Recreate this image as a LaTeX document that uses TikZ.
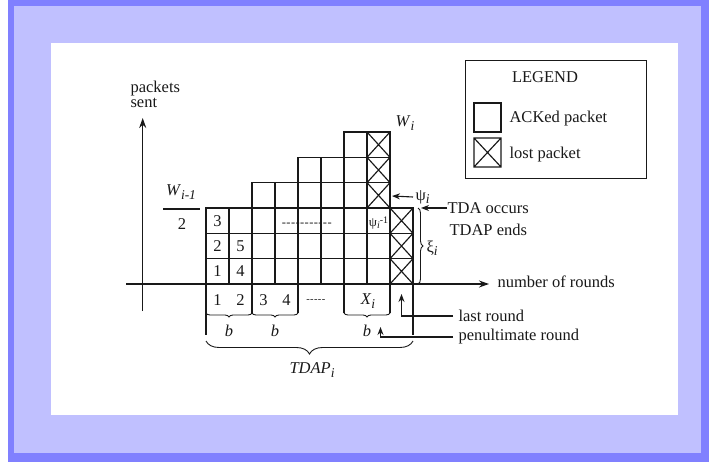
\documentclass[tikz,border=0pt]{standalone}
\usepackage{amsmath}
\usepackage{fontspec}
\setmainfont{Liberation Serif}
\usetikzlibrary{arrows.meta,decorations.pathreplacing}
\definecolor{bordblue}{RGB}{128,128,255}
\definecolor{lav}{RGB}{192,192,255}
\definecolor{ink}{RGB}{25,25,25}
\newcommand\isub[1]{\raisebox{-3.5pt}{\fontsize{13.5}{14}\selectfont\itshape #1}}
\newcommand\hy{-\kern0.4pt}
\begin{document}
\begin{tikzpicture}[x=1pt,y=-1pt,line width=1.15pt,draw=ink,
  lbl/.style={font=\fontsize{16.5}{18}\selectfont,inner sep=0pt,text=ink},
  small/.style={font=\fontsize{13}{14}\selectfont,inner sep=0pt,text=ink},
  axisarrow/.style={-{Stealth[length=10pt,width=7pt]},line width=1.2pt,draw=ink},
  arr/.style={-{Stealth[length=8pt,width=6pt]},line width=1.1pt,draw=ink},
  brc/.style={decorate,line width=0.9pt,draw=ink}]
\useasboundingbox (0,0) rectangle (709,462);
% background frame
\fill[white] (0,0) rectangle (709,462);
\fill[bordblue] (8,0) rectangle (709,462);
\fill[lav] (14,6) rectangle (701,453);
\fill[white] (51,43) rectangle (678,415);

% legend
\draw[line width=1pt] (465,61) rectangle (646,179);
\node[lbl] (legend) at (545,77) {LEGEND};
\draw (474,103) rectangle (501,132);
\node[lbl,anchor=west] (ack) at (509,119) {ACKed packet};
\draw (474,138) rectangle (501,167) (474,138) -- (501,167) (501,138) -- (474,167);
\node[lbl,anchor=west] (lost) at (509,155) {lost packet};

% grid of packets
\foreach \k/\h in {0/3,1/3,2/4,3/4,4/5,5/5,6/6,7/6,8/3}{
  \foreach \r in {1,...,\h}{
    \draw (206+23*\k,284-25.333*\r+25.333) rectangle ++(23,-25.333);
  }
}
\foreach \k/\r in {7/3,7/4,7/5,8/0,8/1,8/2}{
  \draw (206+23*\k,284-25.333*\r) -- ++(23,-25.333) ++(-23,0) -- ++(23,25.333);
}
% cell labels
\node[lbl] (c1) at (217.5,271.3) {1};
\node[lbl] (c2) at (217.5,246) {2};
\node[lbl] (c3) at (217.5,220.7) {3};
\node[lbl] (c4) at (240.5,271.3) {4};
\node[lbl] (c5) at (240.5,246) {5};
\node[font=\fontsize{12.5}{14}\selectfont,inner sep=0pt,text=ink] (dots2) at (307,225) {\hy\hy\hy\hy\hy\hy\hy\hy\hy\hy\hy};
\node[small] (psim) at (378.5,223) {ψ\raisebox{-2.5pt}{\fontsize{10}{11}\selectfont\itshape i}\raisebox{3pt}{\fontsize{10}{11}\selectfont -1}};

% axes
\coordinate (xs) at (126,284);
\coordinate (xe) at (489,284);
\coordinate (ys) at (142.7,311);
\coordinate (ye) at (142.7,118);
\draw[axisarrow] (xs) -- (xe);
\draw[axisarrow] (ys) -- (ye);
\node[lbl,anchor=west] (nrounds) at (497,282) {number of rounds};
\node[lbl,anchor=west,align=left,font=\fontsize{16.5}{15}\selectfont] (psent) at (130,94) {packets\\sent};

% W_{i-1}/2
\node[lbl] (wnum) at (181,192) {\textit{W}\isub{i-1}};
\draw (163,209) -- (200,209);
\node[lbl] (wden) at (182,224) {2};

% rounds row
\node[lbl] (r1) at (217.5,300) {1};
\node[lbl] (r2) at (240.5,300) {2};
\node[lbl] (r3) at (263.5,300) {3};
\node[lbl] (r4) at (286.5,300) {4};
\node[font=\fontsize{10.5}{12}\selectfont,inner sep=0pt,text=ink] (rdots) at (316,301) {\hy\hy\hy\hy\hy};
\node[lbl] (rx) at (368,301) {\textit{X}\isub{i}};
\draw (206,284) -- (206,335);
\draw (252,284) -- (252,313);
\draw (298,284) -- (298,313);
\draw (344,284) -- (344,313);
\draw (390,284) -- (390,313);
\draw (413,284) -- (413,335);
\draw[brc,decoration={brace,amplitude=4pt,mirror}] (206,313) -- (252,313);
\draw[brc,decoration={brace,amplitude=4pt,mirror}] (252,313) -- (298,313);
\draw[brc,decoration={brace,amplitude=4pt,mirror}] (344,313) -- (390,313);
\node[lbl] (b1) at (229,331) {\textit{b}};
\node[lbl] (b2) at (275,331) {\textit{b}};
\node[lbl] (b3) at (367,331) {\textit{b}};
\draw[brc,decoration={brace,amplitude=13pt,mirror}] (206,341) -- (413,341);
\node[lbl] (tdap) at (312,370) {\textit{TDAP}\isub{i}};

% right side labels
\node[lbl] (wi) at (405,123) {\textit{W}\isub{i}};
\node[lbl,anchor=west] (psi) at (415,197) {ψ\isub{i}};
\coordinate (psitip) at (392,196);
\draw[arr] ([xshift=-2pt]psi.west) -- (psitip);
\node[lbl,anchor=west] (tda1) at (447,208) {TDA occurs};
\node[lbl,anchor=west] (tda2) at (449,230) {TDAP ends};
\coordinate (tdatip) at (421,208);
\draw[arr] (tda1.west) -- (tdatip);
\draw[brc,decoration={brace,amplitude=5pt}] (418,208) -- (418,284);
\node[lbl,anchor=west] (xi) at (426,248) {ξ\isub{i}};

% last / penultimate round
\node[lbl,anchor=west] (last) at (458,316) {last round};
\coordinate (lasttip) at (401.5,294);
\draw[arr] ([xshift=-5pt]last.west) -| (lasttip);
\node[lbl,anchor=west] (pen) at (458,337) {penultimate round};
\coordinate (pentip) at (380.5,327);
\draw[arr] ([xshift=-5pt]pen.west) -| (pentip);
\end{tikzpicture}
\end{document}
